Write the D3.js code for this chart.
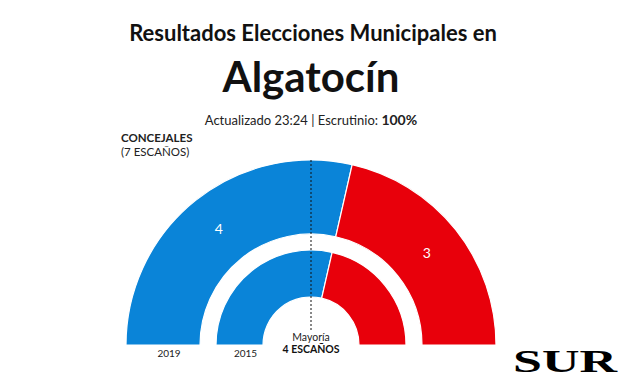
<!DOCTYPE html>
<html>
<head>
<meta charset="utf-8">
<title>Algatocín</title>
<style>
    body { margin: 0; background: white; }
    svg { font-family: Lato, "Open Sans", sans-serif; }
</style>
<script src="https://cdn.jsdelivr.net/npm/d3@7"></script>
</head>
<body>
<div id="chart"></div>
<script>
    var parties = ['PP', 'PSOE'];
    var colors = ['#0a84d8', '#e8000b'];
    var years = ['2019', '2015'];
    var seats2019 = [4, 3];
    var seats2015 = [4, 3];
    var totalSeats = 7;
    var majority = 4;

    var width = 624, height = 385;
    var cx = 311, cy = 345;

    var svg = d3.select('#chart')
            .append('svg')
            .attr('width', width)
            .attr('height', height);

    // titles
    svg.append('text')
            .attr('x', 313).attr('y', 41)
            .attr('text-anchor', 'middle')
            .style('font-size', '22px').style('font-weight', 700)
            .attr('fill', '#111')
            .text('Resultados Elecciones Municipales en');

    svg.append('text')
            .attr('x', 311).attr('y', 92)
            .attr('text-anchor', 'middle')
            .style('font-size', '42px').style('font-weight', 700)
            .attr('fill', '#111')
            .text('Algatocín');

    var sub = svg.append('text')
            .attr('x', 311).attr('y', 125)
            .attr('text-anchor', 'middle')
            .style('font-size', '13px')
            .attr('fill', '#222');
    sub.append('tspan').text('Actualizado 23:24 | Escrutinio: ');
    sub.append('tspan').style('font-weight', 700).style('font-size', '14px').text('100%');

    svg.append('text')
            .attr('x', 121).attr('y', 142)
            .style('font-size', '11.5px').style('font-weight', 700)
            .attr('fill', '#222')
            .text('CONCEJALES');
    svg.append('text')
            .attr('x', 121).attr('y', 156)
            .style('font-size', '11.5px')
            .attr('fill', '#222')
            .text('(' + totalSeats + ' ESCAÑOS)');

    // hemicycle rings
    var rings = [
        { year: years[0], seats: seats2019, inner: 111, outer: 185, labels: true },
        { year: years[1], seats: seats2015, inner: 48, outer: 95, labels: false }
    ];

    var pie = d3.pie()
            .sort(null)
            .startAngle(-Math.PI / 2)
            .endAngle(Math.PI / 2);

    var g = svg.append('g').attr('transform', 'translate(' + cx + ',' + cy + ')');

    rings.forEach(function(ring) {
        var arc = d3.arc().innerRadius(ring.inner).outerRadius(ring.outer);
        var arcs = pie(ring.seats);

        g.selectAll(null)
                .data(arcs)
            .enter().append('path')
                .attr('d', arc)
                .attr('fill', function(d, i) { return colors[i] })
                .attr('stroke', 'white')
                .attr('stroke-width', 1.2);

        if (ring.labels) {
            var labelArc = d3.arc()
                    .innerRadius((ring.inner + ring.outer) / 2)
                    .outerRadius((ring.inner + ring.outer) / 2);
            g.selectAll(null)
                    .data(arcs)
                .enter().append('text')
                    .attr('transform', function(d) { return 'translate(' + labelArc.centroid(d) + ')' })
                    .attr('text-anchor', 'middle')
                    .attr('dy', '0.35em')
                    .attr('fill', 'white')
                    .style('font-size', '14px')
                    .text(function(d) { return d.data });
        }

        g.append('text')
                .attr('x', -(ring.inner + ring.outer) / 2 + 6)
                .attr('y', 12)
                .attr('text-anchor', 'middle')
                .style('font-size', '10px')
                .attr('fill', '#222')
                .text(ring.year);
    });

    // majority line
    g.append('line')
            .attr('x1', 0).attr('x2', 0)
            .attr('y1', -185).attr('y2', -13)
            .attr('stroke', '#111')
            .attr('stroke-width', 1)
            .attr('stroke-dasharray', '2,2');

    g.append('text')
            .attr('x', 0).attr('y', -4)
            .attr('text-anchor', 'middle')
            .style('font-size', '10.5px')
            .attr('fill', '#222')
            .text('Mayoría');
    g.append('text')
            .attr('x', 0).attr('y', 8)
            .attr('text-anchor', 'middle')
            .style('font-size', '10.5px').style('font-weight', 700)
            .attr('fill', '#111')
            .text(majority + ' ESCAÑOS');

    // logo
    svg.append('text')
            .attr('x', 565).attr('y', 372)
            .attr('text-anchor', 'middle')
            .attr('textLength', 104)
            .attr('lengthAdjust', 'spacingAndGlyphs')
            .style('font-family', '"Liberation Serif", serif')
            .style('font-size', '31px').style('font-weight', 700)
            .attr('fill', '#000')
            .text('SUR');
</script>
</body>
</html>
